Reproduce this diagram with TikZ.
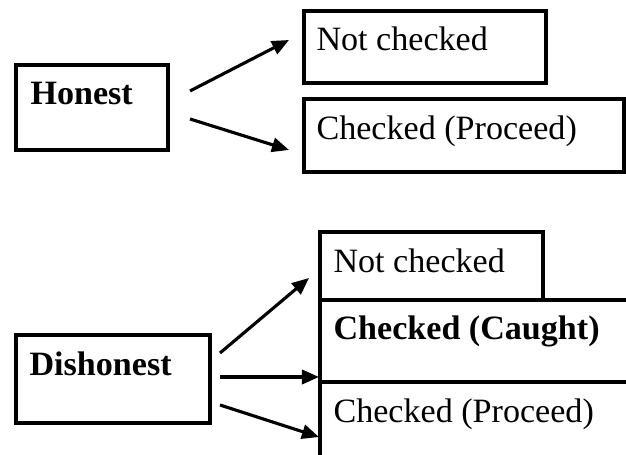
\documentclass[tikz,border=0pt]{standalone}
\usepackage{fontspec}
\setmainfont{Liberation Serif}
\usetikzlibrary{arrows.meta}
\begin{document}
\begin{tikzpicture}[x=0.352pt,y=-0.352pt,
  boxline/.style={draw=black,line width=1.1pt},
  lbl/.style={anchor=base west,inner sep=0pt,font=\fontsize{12}{14}\selectfont},
  blbl/.style={lbl,font=\fontsize{12}{14}\selectfont\bfseries},
  arr/.style={line width=1.1pt,-{Triangle[length=6pt,width=5pt]}}]
\useasboundingbox (0,0) rectangle (626,455);
\clip (0,0) rectangle (626,455);
% top group
\draw[boxline] (16,65) rectangle (168,150);
\node[blbl] (honest) at (30,105) {Honest};
\draw[boxline] (304,11) rectangle (546,83);
\node[lbl] (hnc) at (316,51) {Not checked};
\draw[boxline] (304,99) rectangle (624,172);
\node[lbl] (hcp) at (316,140) {Checked (Proceed)};
\coordinate (h1) at (190,91);
\coordinate (h2) at (190,119);
\coordinate (t1) at (289,40);
\coordinate (t2) at (289,150);
\draw[arr] (h1) -- (t1);
\draw[arr] (h2) -- (t2);
% bottom group
\draw[boxline] (16,335) rectangle (210,423);
\node[blbl] (dishonest) at (29,376) {Dishonest};
\draw[boxline] (320,232) rectangle (543,300);
\node[lbl] (dnc) at (333,273) {Not checked};
\draw[boxline] (320,300) rectangle (640,382);
\node[blbl] (dcc) at (333,340) {Checked (Caught)};
\draw[boxline] (320,382) rectangle (640,470);
\node[lbl] (dcp) at (333,423) {Checked (Proceed)};
\coordinate (d1) at (220,353);
\coordinate (d2) at (220,377);
\coordinate (d3) at (220,405);
\coordinate (e1) at (309,278);
\coordinate (e2) at (319,377);
\coordinate (e3) at (319,437);
\draw[arr] (d1) -- (e1);
\draw[arr] (d2) -- (e2);
\draw[arr] (d3) -- (e3);
\end{tikzpicture}
\end{document}
